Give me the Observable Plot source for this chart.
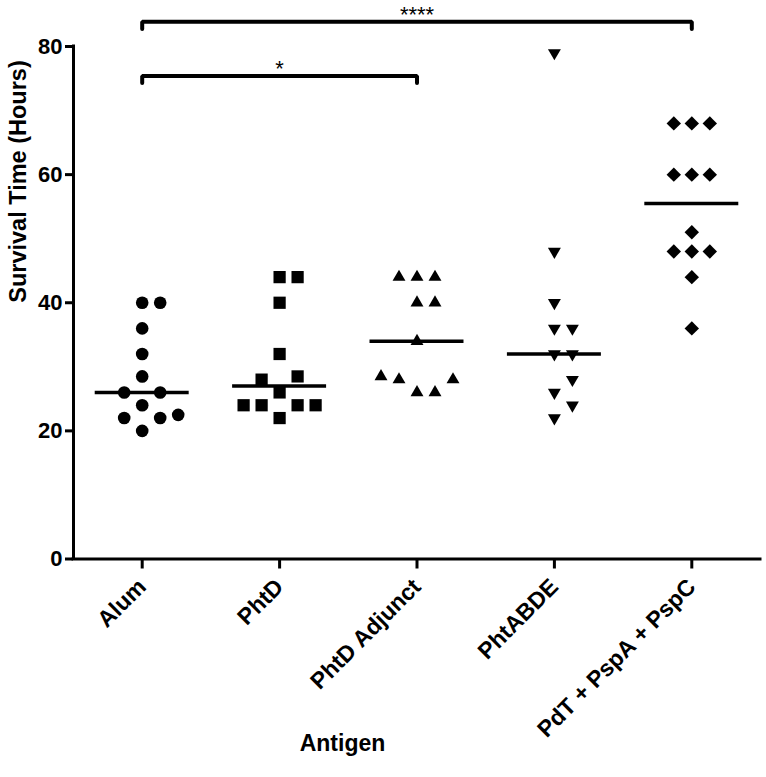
<!DOCTYPE html>
<html><head><meta charset="utf-8">
<script src="https://cdn.jsdelivr.net/npm/d3@7"></script>
<script src="https://cdn.jsdelivr.net/npm/@observablehq/plot@0.6"></script>
<style>body{margin:0;background:#fff;} #chart svg{display:block;}</style>
</head><body><div id="chart"></div>
<script>
// ---------- data ----------
const groups = ["Alum", "PhtD", "PhtD Adjunct", "PhtABDE", "PdT + PspA + PspC"];
const alum        = [40, 40, 36, 32, 28.5, 26, 26, 24, 20, 22, 22, 22.5];
const phtD        = [44, 44, 40, 32, 26, 28.5, 28, 24, 24, 24, 24, 22];
const phtDAdjunct = [44, 44, 44, 40, 40, 34, 26, 26, 28, 28, 28.5];
const phtABDE     = [79, 48, 40, 36, 36, 32, 32, 26, 28, 22, 24];
const pdtPspAPspC = [68, 68, 68, 60, 60, 60, 51, 48, 48, 48, 44, 36];
const yTicks = [0, 20, 40, 60, 80];
const comparisons = [
  {from: "Alum", to: "PhtD Adjunct", label: "*"},
  {from: "Alum", to: "PdT + PspA + PspC", label: "****"}
];
const yLabel = "Survival Time (Hours)";
const xLabel = "Antigen";
const seriesValues = [alum, phtD, phtDAdjunct, phtABDE, pdtPspAPspC];

// ---------- layout / style ----------
const W = 766, H = 777;
const mL = 73, mR = 6, mT = 46, mB = 218.5;
const colStep = 18 / ((W - mL - mR) / groups.length); // one marker column, in category units
const rowGap = 2.75;      // values closer than this can't share a column
const halfW = 0.342;      // half width of the median line, in category units
const bracketBase = 75.4, bracketStep = 8.45, bracketDrop = 1.1;
const styles = [
  {symbol: "circle",   r: 6.3, rotate: 0},
  {symbol: "square",   r: 6.9, rotate: 0},
  {symbol: "triangle", r: 4.8, rotate: 0},
  {symbol: "triangle", r: 4.8, rotate: 180},
  {symbol: "diamond2", r: 6.5, rotate: 0}
];

function scatter(values, gi) {
  const placed = [];
  return values.map(v => {
    let col = 0;
    for (let k = 0; ; k++) {
      const c = k === 0 ? 0 : (k % 2 ? (k + 1) / 2 : -k / 2);
      if (!placed.some(p => p.col === c && Math.abs(p.value - v) < rowGap)) { col = c; break; }
    }
    const d = {group: groups[gi], gi, value: v, col, x: gi + col * colStep};
    placed.push(d);
    return d;
  });
}

const pointSets = seriesValues.map((vals, i) => scatter(vals, i));
const medians = seriesValues.map((vals, i) => ({gi: i, median: d3.median(vals)}));

const sortedComps = comparisons
  .map(c => ({...c, i0: groups.indexOf(c.from), i1: groups.indexOf(c.to)}))
  .sort((a, b) => (a.i1 - a.i0) - (b.i1 - b.i0));
const bracketPts = [];
const bracketLabels = [];
sortedComps.forEach((c, j) => {
  const lvl = bracketBase + j * bracketStep;
  bracketPts.push({z: j, x: c.i0, y: lvl - bracketDrop}, {z: j, x: c.i0, y: lvl},
                  {z: j, x: c.i1, y: lvl}, {z: j, x: c.i1, y: lvl - bracketDrop});
  bracketLabels.push({x: (c.i0 + c.i1) / 2, y: lvl, label: c.label});
});

const marks = [
  Plot.ruleX([-0.5], {strokeWidth: 3, strokeLinecap: "square"}),
  Plot.ruleY([0], {strokeWidth: 3, strokeLinecap: "square"}),
  Plot.axisY({ticks: yTicks, tickSize: 8, tickPadding: 3, strokeWidth: 3, label: null, fontSize: 22}),
  Plot.axisX({ticks: d3.range(groups.length), tickFormat: i => groups[i], tickRotate: -45,
              tickSize: 10, tickPadding: 14, strokeWidth: 3, label: null, fontSize: 23}),
  Plot.text([yLabel], {text: d => d, frameAnchor: "left", rotate: -90, dx: -55.5, fontSize: 23.5}),
  Plot.text([xLabel], {text: d => d, frameAnchor: "bottom", dx: -74.5, dy: 192, fontSize: 23}),
  Plot.ruleY(medians, {x1: d => d.gi - halfW, x2: d => d.gi + halfW, y: "median", strokeWidth: 3.5}),
  ...pointSets.map((pts, i) => Plot.dot(pts, {
    x: "x", y: "value", symbol: styles[i].symbol, r: styles[i].r, rotate: styles[i].rotate,
    fill: "black", stroke: "none"
  })),
  Plot.line(bracketPts, {x: "x", y: "y", z: "z", stroke: "black", strokeWidth: 4,
                         strokeLinecap: "round", strokeLinejoin: "miter"}),
  Plot.text(bracketLabels, {x: "x", y: "y", text: "label", dy: -7, fontSize: 22, fontWeight: "normal"})
];

const chart = Plot.plot({
  width: W, height: H,
  marginLeft: mL, marginRight: mR, marginTop: mT, marginBottom: mB,
  x: {domain: [-0.5, groups.length - 0.5]},
  y: {domain: [0, 80]},
  style: {fontFamily: "Arial, 'Liberation Sans', sans-serif", fontSize: "21px", fontWeight: "bold",
          background: "white", color: "black", overflow: "visible"},
  marks
});
document.getElementById("chart").appendChild(chart);
</script>
</body></html>
